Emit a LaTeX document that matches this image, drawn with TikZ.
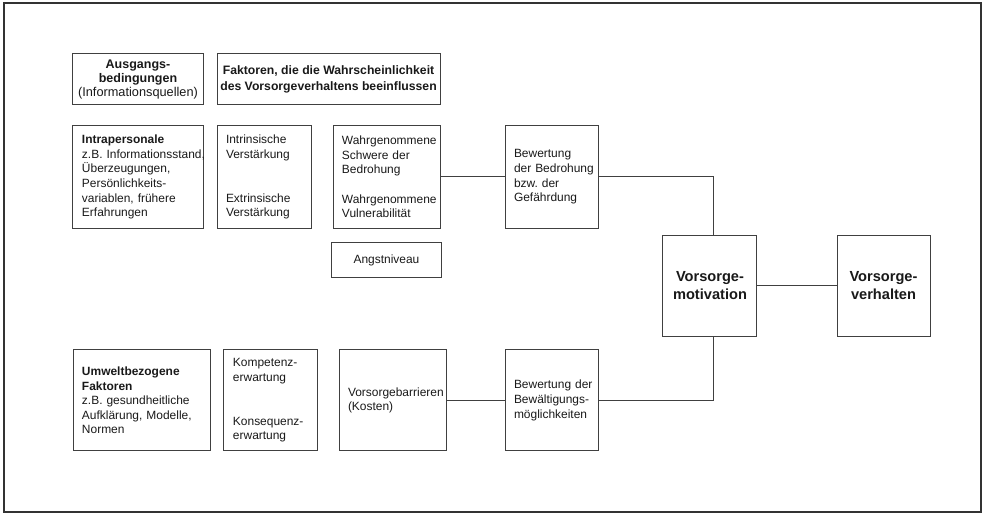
\documentclass[tikz,border=0pt]{standalone}
\usepackage{fontspec}
\setmainfont{Liberation Sans}
\usepackage{tikz}
\pgfdeclarelayer{bg}
\pgfsetlayers{bg,main}
\hyphenpenalty=10000
\exhyphenpenalty=10000
\frenchspacing

\tikzset{
        box/.style={draw=black!75, line width=0.75pt, inner ysep=0pt, text=black!90,
                font=\fontsize{9}{11}\selectfont},
        lbox/.style={box, align=left, inner xsep=0.238cm, text width=#1},
        cbox/.style={box, align=center, inner xsep=0pt, minimum width=#1},
        link/.style={draw=black!75, line width=0.75pt},
}

\begin{document}
\begin{tikzpicture}
        \useasboundingbox (0cm, 0cm) rectangle (26.035cm, -13.599cm);
        \draw [line width=1.1pt, draw=black!80] (0.106cm, -0.079cm) rectangle (25.955cm, -13.547cm);
        % Kopfzeile
        \node (src) [cbox=3.440cm, minimum height=1.349cm, font=\fontsize{9.4}{10.6}\selectfont\bfseries] at (3.651cm, -2.103cm)
                {Ausgangs-\\bedingungen\\\mdseries\fontsize{9.6}{10.6}\selectfont(Informationsquellen)};
        \node (fac) [cbox=5.900cm, minimum height=1.349cm, font=\fontsize{9.2}{11.5}\selectfont\bfseries] at (8.692cm, -2.103cm)
                {Faktoren, die die Wahrscheinlichkeit\\des Vorsorgeverhaltens beeinflussen};
        % obere Reihe
        \node (intra) [lbox=2.964cm, minimum height=2.699cm] at (3.651cm, -4.683cm)
                {\textbf{Intrapersonale}\\z.B.~Informationsstand,\\Überzeugungen,\\Persönlichkeits-\\variablen, frühere\\Erfahrungen};
        \node (reinf) [lbox=2.011cm, minimum height=2.699cm] at (6.985cm, -4.683cm)
                {Intrinsische\\Verstärkung\\[22pt]Extrinsische\\Verstärkung};
        \node (perc) [lbox=2.355cm, minimum height=2.699cm] at (10.226cm, -4.683cm)
                {Wahrgenommene\\Schwere der\\Bedrohung\\[11pt]Wahrgenommene\\Vulnerabilität};
        \node (threat) [lbox=1.985cm, minimum height=2.699cm] at (14.592cm, -4.683cm)
                {Bewertung\\der~Bedrohung\\bzw. der\\Gefährdung};
        \node (fear) [cbox=2.884cm, minimum height=0.952cm] at (10.226cm, -6.879cm) {Angstniveau};
        % rechts
        \node (motiv) [cbox=2.487cm, minimum height=2.672cm, font=\fontsize{11}{13.5}\selectfont\bfseries] at (18.785cm, -7.554cm)
                {Vorsorge-\\motivation};
        \node (behav) [cbox=2.461cm, minimum height=2.672cm, font=\fontsize{11}{13.5}\selectfont\bfseries] at (23.376cm, -7.554cm)
                {Vorsorge-\\verhalten};
        % untere Reihe
        \node (env) [lbox=3.149cm, minimum height=2.672cm] at (3.744cm, -10.596cm)
                {\textbf{Umweltbezogene}\\\textbf{Faktoren}\\z.B. gesundheitliche\\Aufklärung, Modelle,\\Normen};
        \node (expect) [lbox=2.011cm, minimum height=2.672cm] at (7.170cm, -10.596cm)
                {Kompetenz-\\erwartung\\[22pt]Konsequenz-\\erwartung};
        \node (barr) [lbox=2.381cm, minimum height=2.672cm] at (10.398cm, -10.596cm)
                {Vorsorgebarrieren\\(Kosten)};
        \node (coping) [lbox=1.985cm, minimum height=2.672cm] at (14.592cm, -10.596cm)
                {Bewertung~der\\Bewältigungs-\\möglichkeiten};
        \begin{pgfonlayer}{bg}
                \draw (perc) edge [link] (threat);
                \draw [link] (threat) -| ([xshift=0.1cm]motiv.north);
                \draw [link] ([xshift=0.1cm]motiv.south) |- (coping);
                \draw (barr) edge [link] (coping);
                \draw (motiv) edge [link] (behav);
        \end{pgfonlayer}
\end{tikzpicture}
\end{document}
